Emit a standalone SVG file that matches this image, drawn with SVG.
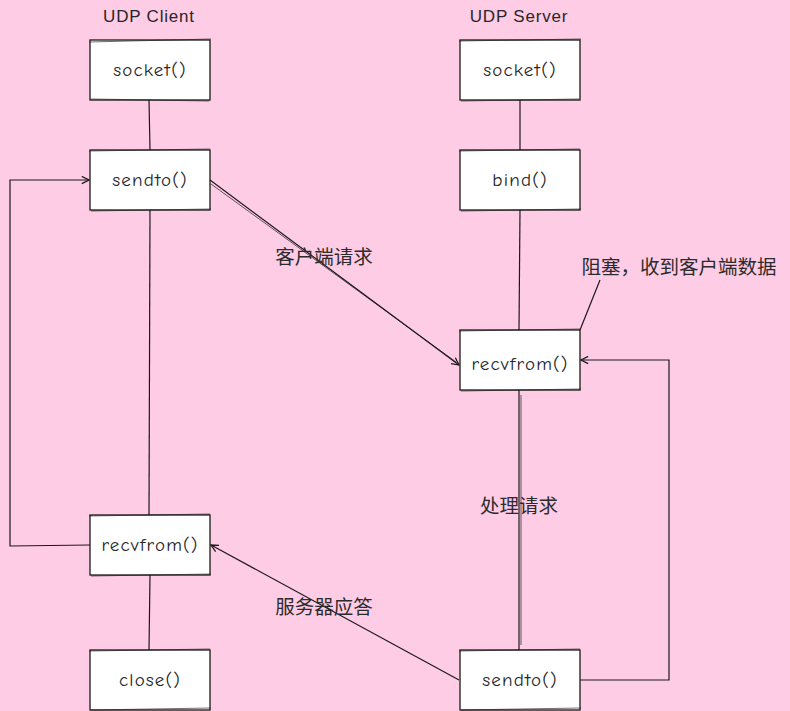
<svg xmlns="http://www.w3.org/2000/svg" width="790" height="711" viewBox="0 0 790 711">
  <style>
    .box rect { fill: #ffffff; stroke: #1a1a1a; stroke-width: 1.3; }
    .box path { fill: none; stroke: #1a1a1a; stroke-width: 0.8; opacity: 0.8; }
    .lbl { font-family: "Comic Neue", "Liberation Sans", "DejaVu Sans", sans-serif; font-size: 19px; letter-spacing: 1.2px; fill: #262626; text-anchor: middle; dominant-baseline: central; }
    .title { font-family: "Liberation Sans", "DejaVu Sans", sans-serif; font-size: 17px; letter-spacing: 0.8px; fill: #262626; text-anchor: middle; dominant-baseline: central; }
    .cjk { font-family: "Noto Sans CJK SC", "Liberation Sans", sans-serif; font-size: 19.5px; fill: #2b2b2b; text-anchor: middle; dominant-baseline: central; }
    .edge { fill: none; stroke: #1a1a1a; stroke-width: 1.2; }
    .edge2 { fill: none; stroke: #1a1a1a; stroke-width: 0.7; }
  </style>
  <defs>
    <marker id="arr" viewBox="0 0 10 10" refX="9" refY="5" markerWidth="9" markerHeight="9" markerUnits="userSpaceOnUse" orient="auto">
      <path d="M1,1 L9,5 L1,9" fill="none" stroke="#1a1a1a" stroke-width="1.4"/>
    </marker>
  </defs>

  <rect width="790" height="711" fill="#ffcce6"/>

  <text class="title" x="149" y="16">UDP Client</text>
  <text class="title" x="519" y="16">UDP Server</text>

  <!-- connectors -->
  <g id="connectors">
    <path class="edge" d="M149,100 L150,150"/>
    <path class="edge" d="M150,210 L149,515"/>
    <path class="edge" d="M150,575 L149,650"/>
    <path class="edge" d="M90,545 L10,546 L10,180 L89,180" marker-end="url(#arr)"/>
    <path class="edge" d="M210,180 L459,365" marker-end="url(#arr)"/>
    <path class="edge2" d="M211,184 L456,362"/>
    <path class="edge" d="M520,100 L520,150"/>
    <path class="edge" d="M520,210 L519,330"/>
    <path class="edge" d="M519,390 L519,650"/>
    <path class="edge2" d="M521,395 L521,645"/>
    <path class="edge" d="M580,680 L669,680 L669,360 L581,360" marker-end="url(#arr)"/>
    <path class="edge" d="M459,680 L211,545" marker-end="url(#arr)"/>
    <path class="edge" d="M580,330 L600,280"/>
    <text class="cjk" x="324" y="255">客户端请求</text>
    <text class="cjk" x="519" y="504">处理请求</text>
    <text class="cjk" x="324" y="605">服务器应答</text>
    <text class="cjk" x="679" y="265">阻塞，收到客户端数据</text>
  </g>

  <g id="c-socket" class="box">
    <rect x="90" y="40" width="120" height="60"/>
    <path d="M89,42 L211,39 M91,99 L209,101"/>
    <text class="lbl" x="150" y="70">socket()</text>
  </g>
  <g id="c-sendto" class="box">
    <rect x="90" y="150" width="120" height="60"/>
    <path d="M89,151 L210,149 M91,211 L211,209"/>
    <text class="lbl" x="150" y="180">sendto()</text>
  </g>
  <g id="c-recvfrom" class="box">
    <rect x="90" y="515" width="120" height="60"/>
    <path d="M89,516 L210,514 M91,576 L211,574"/>
    <text class="lbl" x="150" y="545">recvfrom()</text>
  </g>
  <g id="c-close" class="box">
    <rect x="90" y="650" width="120" height="60"/>
    <path d="M89,651 L210,649 M91,710 L211,708"/>
    <text class="lbl" x="150" y="680">close()</text>
  </g>

  <g id="s-socket" class="box">
    <rect x="460" y="40" width="120" height="60"/>
    <path d="M459,41 L581,39 M461,101 L579,99"/>
    <text class="lbl" x="520" y="70">socket()</text>
  </g>
  <g id="s-bind" class="box">
    <rect x="460" y="150" width="120" height="60"/>
    <path d="M459,151 L580,149 M461,211 L581,209"/>
    <text class="lbl" x="520" y="180">bind()</text>
  </g>
  <g id="s-recvfrom" class="box">
    <rect x="460" y="330" width="120" height="60"/>
    <path d="M459,331 L580,329 M461,391 L581,389"/>
    <text class="lbl" x="520" y="364">recvfrom()</text>
  </g>
  <g id="s-sendto" class="box">
    <rect x="460" y="650" width="120" height="60"/>
    <path d="M459,651 L580,649 M461,710 L581,708"/>
    <text class="lbl" x="520" y="680">sendto()</text>
  </g>
</svg>
